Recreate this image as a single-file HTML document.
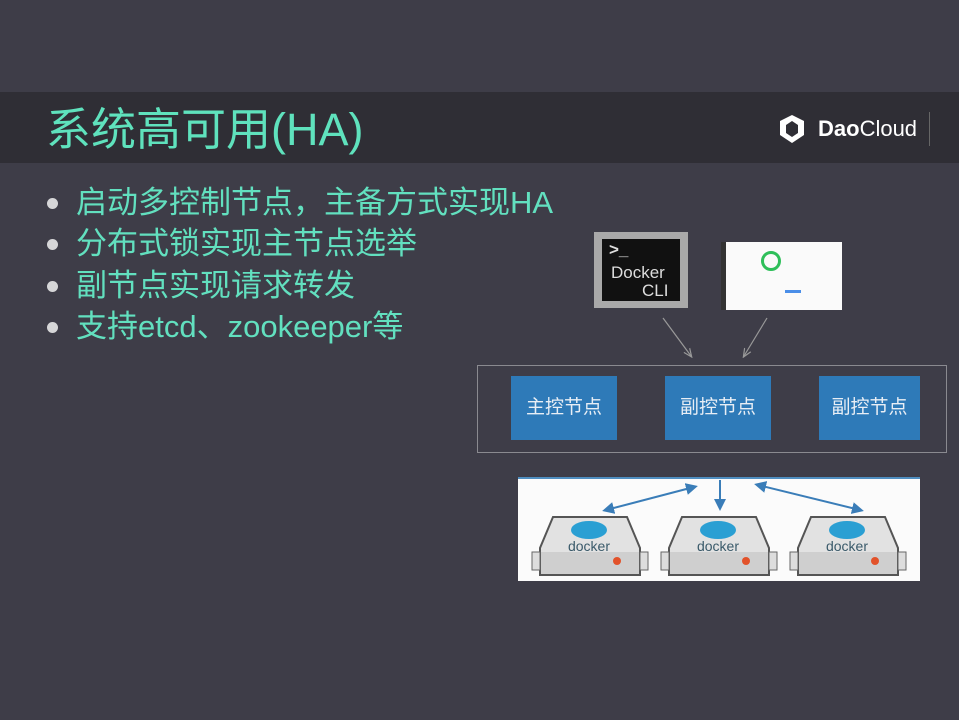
<!DOCTYPE html>
<html><head><meta charset="utf-8"><style>
html,body{margin:0;padding:0}
body{width:959px;height:720px;background:#3e3d48;position:relative;overflow:hidden;font-family:"Liberation Sans","Noto Sans CJK SC",sans-serif}
.bar{position:absolute;left:0;top:92px;width:959px;height:71px;background:#2f2e35}
.title{position:absolute;left:46px;top:103px;font-size:45px;color:#5fe2bd;line-height:54px;white-space:nowrap}
.logo{position:absolute;left:818px;top:115px;font-size:22px;color:#fff;font-weight:bold;line-height:28px}
.logo span{font-weight:normal}
.li{position:absolute;left:76px;font-size:31px;color:#62e0bf;line-height:36px;white-space:nowrap}
.dot{position:absolute;left:47px;width:11px;height:11px;border-radius:50%;background:#d6d6d8}
.node{position:absolute;top:376px;width:106px;height:64px;background:#2e7ab8;color:#e8eef5;font-size:19px;line-height:64px;text-align:center}
</style></head><body>
<div class="bar"></div>
<div class="title">系统高可用(HA)</div>
<svg style="position:absolute;left:777px;top:113px" width="30" height="32" viewBox="0 0 30 32"><path d="M15 2 L27 8 L27 22 L15 30 L3 22 L3 8 Z" fill="#fff"/><path d="M15 8 L21 12 L21 20 L15 24 L9 20 L9 12 Z" fill="#2f2e35"/></svg>
<div class="logo">Dao<span>Cloud</span></div>
<div style="position:absolute;left:929px;top:112px;width:1px;height:34px;background:#666"></div>

<div class="dot" style="top:198px"></div><div class="li" style="top:185px">启动多控制节点，主备方式实现HA</div>
<div class="dot" style="top:239px"></div><div class="li" style="top:226px">分布式锁实现主节点选举</div>
<div class="dot" style="top:281px"></div><div class="li" style="top:268px">副节点实现请求转发</div>
<div class="dot" style="top:322px"></div><div class="li" style="top:309px">支持etcd、zookeeper等</div>

<div style="position:absolute;left:594px;top:232px;width:94px;height:76px;background:#a9a9a9"></div>
<div style="position:absolute;left:602px;top:239px;width:78px;height:62px;background:#111;color:#ddd;font-size:17px;line-height:19px">
<div style="position:absolute;left:7px;top:1px;font-weight:bold">&gt;_</div>
<div style="position:absolute;left:9px;top:24px">Docker</div>
<div style="position:absolute;left:40px;top:42px">CLI</div></div>
<div style="position:absolute;left:721px;top:242px;width:121px;height:68px;background:#fafafa"></div>
<div style="position:absolute;left:721px;top:242px;width:5px;height:68px;background:#333"></div>
<div style="position:absolute;left:761px;top:251px;width:14px;height:14px;border:3px solid #2fbf5a;border-radius:50%"></div>
<div style="position:absolute;left:785px;top:290px;width:16px;height:3px;background:#4a8ee8"></div>

<svg style="position:absolute;left:0;top:0" width="959" height="720">
<defs><marker id="a" markerWidth="8" markerHeight="8" refX="6" refY="4" orient="auto"><path d="M0 1 L7 4 L0 7" fill="none" stroke="#999" stroke-width="1"/></marker>
<marker id="b" markerWidth="6" markerHeight="6" refX="4" refY="3" orient="auto"><path d="M0 0 L6 3 L0 6 Z" fill="#3a7db8"/></marker>
<marker id="c" markerWidth="6" markerHeight="6" refX="2" refY="3" orient="auto"><path d="M6 0 L0 3 L6 6 Z" fill="#3a7db8"/></marker></defs>
<line x1="663" y1="318" x2="691" y2="356" stroke="#999" stroke-width="1.2" marker-end="url(#a)"/>
<line x1="767" y1="318" x2="744" y2="356" stroke="#999" stroke-width="1.2" marker-end="url(#a)"/>
<rect x="477.5" y="365.5" width="469" height="87" fill="none" stroke="#8a8a90" stroke-width="1"/>
<rect x="518" y="477" width="402" height="104" fill="#fbfbfb"/>
<line x1="518" y1="478" x2="920" y2="478" stroke="#4f8ec0" stroke-width="2"/>
<line x1="694" y1="487" x2="606" y2="510" stroke="#3a7db8" stroke-width="2" marker-start="url(#c)" marker-end="url(#b)"/>
<line x1="720" y1="480" x2="720" y2="507" stroke="#3a7db8" stroke-width="2" marker-end="url(#b)"/>
<line x1="758" y1="485" x2="860" y2="510" stroke="#3a7db8" stroke-width="2" marker-start="url(#c)" marker-end="url(#b)"/>
<g id="s">
<path d="M553 517 L627 517 L640 548 L640 575 L540 575 L540 548 Z" fill="#e2e2e2" stroke="#555" stroke-width="2"/>
<rect x="541" y="552" width="98" height="22" fill="#cfcfcf"/>
<rect x="532" y="552" width="8" height="18" fill="#ddd" stroke="#666"/>
<rect x="640" y="552" width="8" height="18" fill="#ddd" stroke="#666"/>
<ellipse cx="589" cy="530" rx="18" ry="9" fill="#2a9fd3"/>
<text x="589" y="551" font-size="14" fill="#3a5a6a" text-anchor="middle" font-family="Liberation Sans">docker</text>
<circle cx="617" cy="561" r="4" fill="#e2522a"/>
</g>
<use href="#s" x="129"/>
<use href="#s" x="258"/>
</svg>
<div class="node" style="left:511px">主控节点</div>
<div class="node" style="left:665px">副控节点</div>
<div class="node" style="left:819px;width:101px">副控节点</div>
</body></html>
